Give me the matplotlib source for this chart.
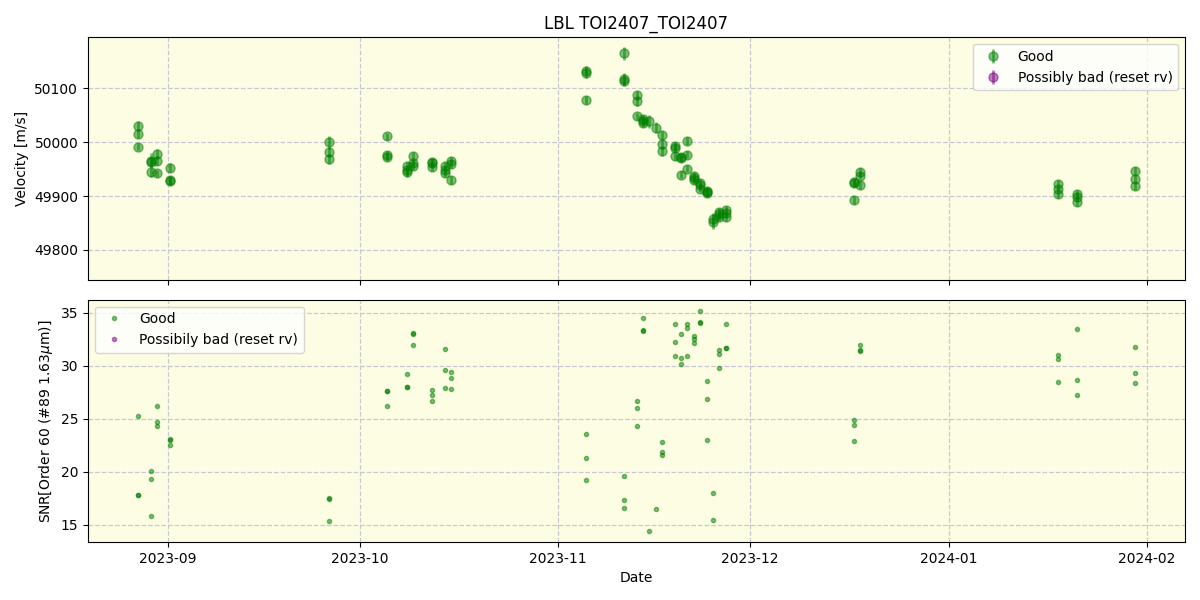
import matplotlib
matplotlib.use("Agg")
import matplotlib.pyplot as plt
import pandas as pd
import numpy as np

dates = [
    "2023-08-27 08:30", "2023-08-27 08:40", "2023-08-27 08:50",
    "2023-08-29 09:10", "2023-08-29 09:20", "2023-08-29 09:30",
    "2023-08-30 07:50", "2023-08-30 08:00", "2023-08-30 08:10",
    "2023-09-01 08:30", "2023-09-01 08:40", "2023-09-01 08:50",
    "2023-09-26 04:50", "2023-09-26 05:00", "2023-09-26 05:10",
    "2023-10-05 06:20", "2023-10-05 06:30", "2023-10-05 06:40",
    "2023-10-08 09:10", "2023-10-08 09:20", "2023-10-08 09:30",
    "2023-10-09 07:50", "2023-10-09 08:00", "2023-10-09 08:10",
    "2023-10-12 07:00", "2023-10-12 07:10", "2023-10-12 07:20",
    "2023-10-14 07:50", "2023-10-14 08:00", "2023-10-14 08:10",
    "2023-10-15 06:20", "2023-10-15 06:30", "2023-10-15 06:40",
    "2023-11-05 07:20", "2023-11-05 07:30", "2023-11-05 07:40",
    "2023-11-11 07:00", "2023-11-11 07:10", "2023-11-11 07:20",
    "2023-11-13 07:50", "2023-11-13 08:00", "2023-11-13 08:10",
    "2023-11-14 06:20", "2023-11-14 06:30", "2023-11-14 06:40",
    "2023-11-15 05:00",
    "2023-11-16 07:10",
    "2023-11-17 05:30", "2023-11-17 05:40", "2023-11-17 05:50",
    "2023-11-19 06:20", "2023-11-19 06:30", "2023-11-19 06:40",
    "2023-11-20 04:40", "2023-11-20 04:50", "2023-11-20 05:00",
    "2023-11-21 03:10", "2023-11-21 03:20", "2023-11-21 03:30",
    "2023-11-22 05:30", "2023-11-22 05:40", "2023-11-22 05:50",
    "2023-11-23 04:00", "2023-11-23 04:10", "2023-11-23 04:20",
    "2023-11-24 05:10", "2023-11-24 05:20", "2023-11-24 05:30",
    "2023-11-25 04:40", "2023-11-25 04:50",
    "2023-11-26 03:10", "2023-11-26 03:20", "2023-11-26 03:30",
    "2023-11-27 05:30", "2023-11-27 05:40", "2023-11-27 05:50",
    "2023-12-17 04:40", "2023-12-17 04:50", "2023-12-17 05:00",
    "2023-12-18 04:00", "2023-12-18 04:10", "2023-12-18 04:20",
    "2024-01-18 01:20", "2024-01-18 01:30", "2024-01-18 01:40",
    "2024-01-21 00:40", "2024-01-21 00:50", "2024-01-21 01:00",
    "2024-01-30 03:20", "2024-01-30 03:30", "2024-01-30 03:40",
]

velocity = [
    50030, 50016, 49992,
    49966, 49963, 49944,
    49978, 49966, 49942,
    49953, 49930, 49928,
    50000, 49981, 49969,
    50011, 49976, 49973,
    49955, 49948, 49944,
    49974, 49962, 49956,
    49963, 49961, 49954,
    49956, 49948, 49942,
    49966, 49960, 49930,
    50133, 50129, 50078,
    50165, 50118, 50114,
    50088, 50076, 50048,
    50044, 50040, 50036,
    50039,
    50027,
    50013, 49996, 49983,
    49993, 49989, 49974,
    49973, 49970, 49940,
    50002, 49977, 49951,
    49937, 49933, 49930,
    49924, 49920, 49914,
    49909, 49907, 49905,
    49852, 49858,
    49870, 49866, 49861,
    49875, 49868, 49861,
    49926, 49924, 49893,
    49945, 49938, 49921,
    49923, 49914, 49904,
    49904, 49898, 49889,
    49947, 49932, 49918,
]

velocity_err = [
    10, 9, 7,
    14, 9, 8,
    10, 9, 7,
    8, 7, 7,
    12, 8, 9,
    7, 7, 7,
    8, 8, 8,
    7, 7, 7,
    7, 7, 7,
    7, 7, 7,
    7, 7, 7,
    9, 9, 7,
    12, 11, 10,
    8, 8, 7,
    7, 7, 7,
    12,
    10,
    8, 9, 9,
    7, 7, 7,
    7, 7, 7,
    7, 7, 7,
    7, 7, 7,
    7, 7, 7,
    7, 7, 7,
    14, 11,
    8, 8, 8,
    7, 7, 7,
    8, 8, 8,
    7, 7, 7,
    7, 7, 7,
    7, 7, 7,
    7, 7, 7,
]

snr = [
    25.3, 17.8, 17.8,
    20.1, 19.3, 15.8,
    26.2, 24.7, 24.3,
    23.1, 23.0, 22.5,
    17.5, 17.4, 15.3,
    27.6, 27.6, 26.2,
    29.2, 28.0, 28.0,
    33.1, 33.0, 32.0,
    27.7, 27.2, 26.7,
    31.6, 29.6, 27.9,
    29.4, 28.8, 27.8,
    23.6, 21.3, 19.2,
    19.6, 17.3, 16.6,
    26.7, 26.0, 24.3,
    34.5, 33.4, 33.3,
    14.4,
    16.5,
    22.8, 21.9, 21.6,
    33.9, 32.2, 30.9,
    33.0, 30.7, 30.2,
    33.9, 33.6, 30.9,
    32.8, 32.5, 32.1,
    35.2, 34.1, 34.0,
    28.6, 26.9, 23.0,
    18.0, 15.4,
    31.5, 31.1, 29.8,
    33.9, 31.7, 31.7,
    24.9, 24.4, 22.9,
    32.0, 31.5, 31.4,
    31.0, 30.6, 28.5,
    33.5, 28.7, 27.2,
    31.8, 29.3, 28.4,
]

bad_dates = []
bad_velocity = []
bad_err = []
bad_snr = []

t = pd.to_datetime(dates)
tb = pd.to_datetime(bad_dates)

fig, (ax1, ax2) = plt.subplots(2, 1, figsize=(12, 6), dpi=100, sharex=True)
fig.subplots_adjust(left=0.0733, right=0.9875, top=0.938, bottom=0.0967, hspace=0.083)

bg = "#FDFDE3"
for ax in (ax1, ax2):
    ax.set_facecolor(bg)
    ax.grid(True, linestyle="--", color="#c8c8d4", linewidth=0.9)
    ax.set_axisbelow(True)

ax1.errorbar(t, velocity, yerr=velocity_err, fmt="o", color="green",
             alpha=0.5, ms=6.5, elinewidth=2, label="Good")
ax1.errorbar(tb, bad_velocity, yerr=bad_err, fmt="o", color="purple",
             alpha=0.5, ms=6.5, elinewidth=2, label="Possibly bad (reset rv)")
ax1.set_ylim(49745, 50195)
ax1.set_ylabel("Velocity [m/s]")
ax1.set_title("LBL TOI2407_TOI2407")
ax1.legend(loc="upper right")
ax1.tick_params(labelbottom=False)

ax2.plot(t, snr, ".", color="green", alpha=0.5, label="Good")
ax2.plot(tb, bad_snr, ".", color="purple", alpha=0.5, label="Possibily bad (reset rv)")
ax2.set_ylabel("SNR[Order 60 (#89 1.63$\\mu$m)]")
ax2.set_xlabel("Date")
ax2.legend(loc="upper left")

fig.savefig("out.png", dpi=100)
